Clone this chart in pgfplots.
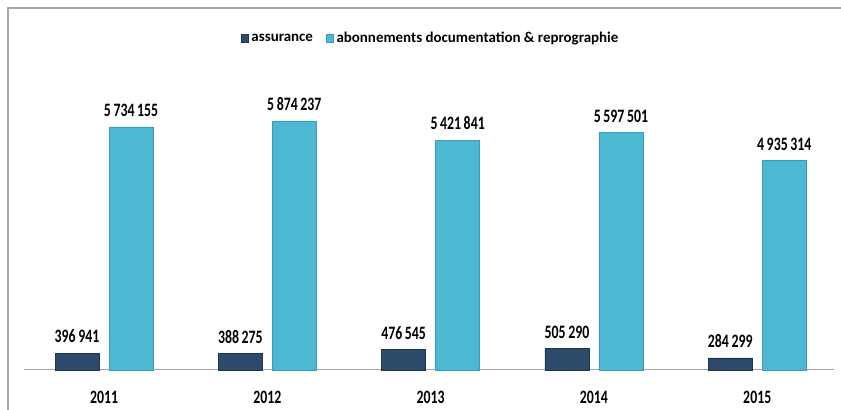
\documentclass[border=0pt]{standalone}
\usepackage{pgfplots}
\pgfplotsset{compat=1.18}
\usepackage{fontspec}
\setmainfont{Carlito}
\newfontfamily\cond[FakeStretch=0.73]{Carlito}
\newcommand{\ts}{\hspace{2.6bp}}
\definecolor{darkbar}{HTML}{2E4A6B}
\definecolor{darkedge}{HTML}{1E3450}
\definecolor{cyanbar}{HTML}{4DB8D2}
\definecolor{cyanedge}{HTML}{3A9BB4}
\definecolor{framegray}{HTML}{A6A6A6}
\begin{document}
\begin{tikzpicture}
\path[use as bounding box] (0,0) rectangle (841bp,410bp);
\draw[framegray, line width=1.2bp] (8bp,0) -- (8bp,402bp) -- (841bp,402bp);
\begin{axis}[
  at={(24bp,40bp)}, anchor=south west,
  scale only axis, width=810bp, height=330bp,
  xmin=-0.49, xmax=4.47, ymin=0, ymax=7783000,
  axis y line=none, axis x line*=bottom,
  x axis line style={-, draw=framegray, line width=1bp},
  xtick={0,1,2,3,4}, xticklabels={2011,2012,2013,2014,2015},
  major tick length=0pt,
  xticklabel style={font=\fontsize{19}{21}\cond\bfseries, inner sep=0pt, yshift=-21bp},
  ybar=10bp, bar width=44bp,
  clip=false,
  point meta=explicit symbolic,
  nodes near coords,
  every node near coord/.append style={font=\fontsize{19}{21}\cond\bfseries, black, inner sep=0pt, yshift=10bp},
  legend style={at={(0.502,1.005)}, anchor=center, draw=none, fill=none,
    legend columns=2, font=\fontsize{15}{17}\selectfont\bfseries,
    /tikz/every even column/.append style={column sep=11bp},
    /tikz/every odd column/.append style={column sep=1bp}},
  legend image code/.code={\fill[#1] (0bp,-4bp) rectangle (7bp,4bp);},
]
\addplot[fill=darkbar, draw=darkedge, line width=0.6bp] coordinates {
  (0,396941) [396\ts941]
  (1,388275) [388\ts275]
  (2,476545) [476\ts545]
  (3,505290) [505\ts290]
  (4,284299) [284\ts299]
};
\addplot[fill=cyanbar, draw=cyanedge, line width=0.6bp] coordinates {
  (0,5734155) [5\ts734\ts155]
  (1,5874237) [5\ts874\ts237]
  (2,5421841) [5\ts421\ts841]
  (3,5597501) [5\ts597\ts501]
  (4,4935314) [4\ts935\ts314]
};
\legend{assurance, abonnements documentation \& reprographie}
\end{axis}
\end{tikzpicture}
\end{document}
